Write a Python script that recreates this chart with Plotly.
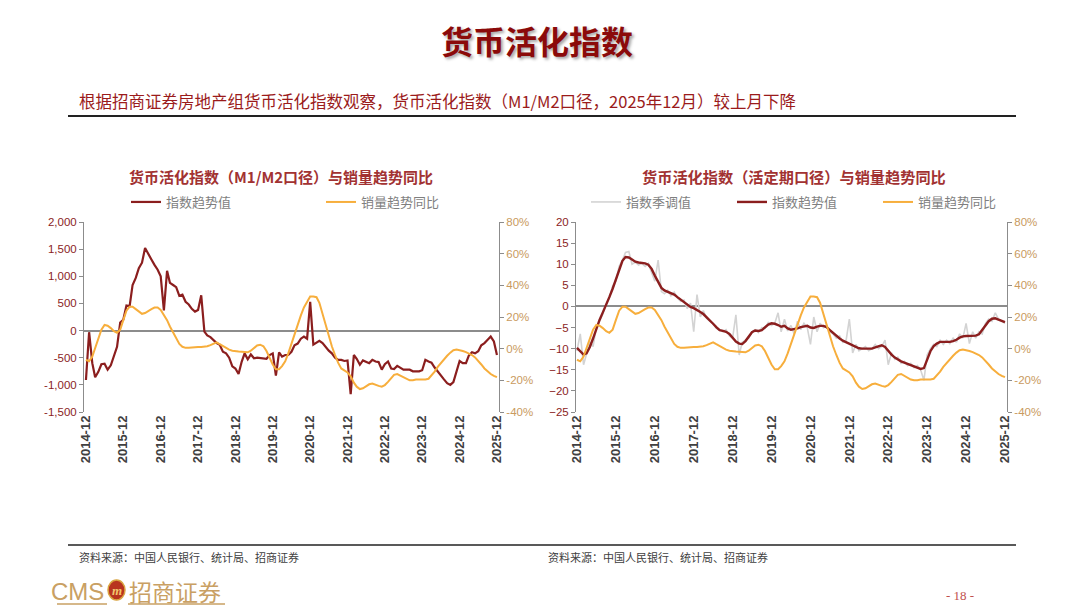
import pandas as pd
import plotly.graph_objects as go

# 月度日期（2014-12 ~ 2025-12）
months = pd.date_range("2014-12-01", "2025-12-01", freq="MS")
year_ticks = pd.date_range("2014-12-01", "2025-12-01", freq="12MS")
year_labels = [d.strftime("%Y-%m") for d in year_ticks]

# 左图：货币活化指数（M1/M2口径）趋势值
m1m2_trend = [
    -910, -30, -600, -860, -760, -620, -610, -720, -640, -470, -300, 150,
    200, 460, 450, 840, 970, 1150, 1250, 1520, 1400, 1310, 1210, 1120,
    1000, 370, 1100, 880, 840, 800, 640, 660, 530, 480, 400, 350,
    380, 650, -20, -90, -120, -170, -230, -260, -390, -420, -500, -660,
    -700, -800, -570, -420, -530, -440, -510, -500, -510, -510, -520, -450,
    -420, -830, -400, -480, -450, -450, -390, -270, -240, -150, -110, -150,
    530, -260, -230, -190, -230, -310, -370, -420, -500, -540, -540, -560,
    -550, -1170, -450, -520, -630, -550, -570, -600, -540, -570, -580, -720,
    -620, -570, -700, -710, -650, -690, -720, -720, -720, -750, -750, -750,
    -730, -540, -570, -590, -680, -760, -840, -900, -970, -1000, -950, -760,
    -560, -600, -600, -460, -400, -420, -380, -270, -230, -170, -110, -200,
    -450,
]

# 销量趋势同比（%）
sales_yoy = [
    -7, -8, -5, 0, 6.5, 12, 15, 14.5, 13, 11, 10, 12,
    18, 24, 26.5, 26.5, 25, 23.5, 22, 22.5, 23.5, 25, 26, 26,
    24.5, 21.5, 18, 14, 10, 6, 3, 1.2, 0.5, 0.5, 0.8, 1,
    1, 1, 1.2, 1.5, 2.2, 3, 4, 2.8, 1.5, 0.5, -0.6, -1.3,
    -1.7, -1.8, -2, -2.2, -2.3, -1.3, 0.3, 2, 2.5, 1.5, -1.5, -6,
    -10, -13, -13, -11, -8, -3, 3, 10, 16, 21, 26, 30,
    33, 33, 32.5, 29, 22, 14, 7, 1.5, -4, -9, -12.5, -14,
    -15, -17.5, -21.5, -24, -25.5, -25, -23.5, -22.5, -22, -23, -23.5, -24,
    -23, -21, -18.5, -16.5, -16, -17, -18, -19.5, -20, -20, -19.5, -19.5,
    -19.5, -19.5, -19, -17, -14.5, -11.5, -9, -6.5, -4.5, -2.5, -1, -0.5,
    -0.8, -1.5, -2.2, -3, -4, -5.5, -7.5, -10, -12.5, -14.5, -16, -17.2,
    -18,
]

# 右图：货币活化指数（活定期口径）季调值
demand_sa = [
    -10.5, -6.5, -13.8, -11.5, -8.5, -9.5, -5.0, -3.5, -1.8, 0.5, 2.0, 4.8,
    6.0, 9.5, 11.0, 12.8, 13.0, 10.0, 10.5, 9.8, 10.2, 9.5, 10.2, 8.0,
    6.0, 11.0, 3.5, 3.0, 3.8, 2.5, 3.4, 2.0, 1.2, 1.5, -0.5, 0.8,
    -6.0, 2.8, -2.5, -1.0, -2.8, -3.5, -4.0, -5.2, -5.5, -6.0, -5.5, -7.0,
    -7.5, -2.0, -11.5, -8.5, -8.0, -7.5, -6.0, -5.5, -6.2, -5.0, -5.2, -3.8,
    -4.5, -4.0, -1.5, -6.0, -3.0, -5.8, -4.5, -6.5, -3.5, -5.5, -4.0, -5.0,
    -9.0, -2.5, -6.0, -4.0, -5.0, -4.5, -6.0, -6.5, -7.5, -7.0, -8.5, -8.0,
    -3.0, -11.0, -9.0, -10.5, -10.0, -9.5, -10.5, -10.0, -9.0, -10.0, -9.5, -8.0,
    -13.8, -11.0, -12.5, -12.0, -13.5, -13.0, -14.0, -13.5, -14.5, -14.0, -15.0, -17.5,
    -11.5, -10.0, -9.0, -9.5, -8.0, -9.0, -8.0, -8.8, -7.5, -8.5, -6.5, -7.5,
    -4.0, -8.8, -6.0, -7.5, -6.0, -6.5, -4.0, -3.0, -3.5, -1.5, -3.0, -3.5,
    -4.0,
]

# 右图：货币活化指数（活定期口径）趋势值
demand_trend = [
    -9.8, -10.6, -11.4, -11.1, -9.6, -7.6, -5.3, -3.2, -1.4, 0.3, 2.2, 4.2,
    6.5, 8.8, 10.8, 11.7, 11.6, 11.1, 10.6, 10.4, 10.3, 10.2, 9.9, 8.9,
    7.3, 5.7, 4.4, 3.8, 3.5, 3.2, 2.8, 2.2, 1.6, 1.0, 0.4, -0.1,
    -0.4, -0.8, -1.3, -1.8, -2.5, -3.3, -4.1, -4.9, -5.6, -5.8, -6.0, -6.5,
    -7.4, -8.3, -8.8, -8.9, -8.2, -7.2, -6.1, -5.7, -5.8, -5.6, -4.9, -4.3,
    -4.0, -4.1, -4.4, -4.8, -4.6, -5.2, -5.5, -5.4, -5.2, -4.9, -4.7, -4.6,
    -5.0, -5.1, -4.8, -4.6, -4.6, -4.9, -5.6, -6.3, -7.0, -7.6, -8.1, -8.5,
    -8.8, -9.2, -9.6, -9.9, -10.0, -10.0, -10.0, -10.0, -9.7, -9.4, -9.2, -9.6,
    -10.6, -11.4, -12.1, -12.6, -13.0, -13.3, -13.6, -13.9, -14.2, -14.5, -14.8, -14.6,
    -12.5, -10.6, -9.4, -8.8, -8.4, -8.4, -8.4, -8.4, -8.2, -7.9, -7.4, -7.1,
    -7.0, -7.0, -7.0, -6.9, -6.6, -5.6, -4.5, -3.5, -2.9, -2.8, -3.1, -3.4,
    -3.7,
]

left_vals = [-1500, -1000, -500, 0, 500, 1000, 1500, 2000]
left_text = ["-1,500", "-1,000", "-500", "0", "500", "1,000", "1,500", "2,000"]
right_vals = [-25, -20, -15, -10, -5, 0, 5, 10, 15, 20]
pct_vals = [-40, -20, 0, 20, 40, 60, 80]
pct_text = ["-40%", "-20%", "0%", "20%", "40%", "60%", "80%"]

RED = "#8B1E1E"
ORANGE = "#F7AE3C"
GRAY = "#D3D3D3"
AXIS = "#8C8C8C"
CJK = "Noto Sans CJK SC"
# 页面有 8px 边距，图按 1072x600 放置
OFF = 8
W, H = 1072, 600


def px(x):
    return (x - OFF) / W


def py(y):
    return 1 - (y - OFF) / H


ydom = [py(412), py(222)]
xdom_l = [px(84), px(499)]
xdom_r = [px(576), px(1007)]
xr_l = ["2014-11-12", "2025-12-21"]
xr_r = ["2014-11-22", "2025-12-20"]

fig = go.Figure()
fig.add_trace(go.Scatter(x=months, y=m1m2_trend, name="指数趋势值", mode="lines",
                         line=dict(color=RED, width=2.2), xaxis="x", yaxis="y", legend="legend"))
fig.add_trace(go.Scatter(x=months, y=sales_yoy, name="销量趋势同比", mode="lines",
                         line=dict(color=ORANGE, width=2), xaxis="x", yaxis="y2", legend="legend"))
fig.add_trace(go.Scatter(x=months, y=demand_sa, name="指数季调值", mode="lines",
                         line=dict(color=GRAY, width=1.6), xaxis="x2", yaxis="y3", legend="legend2"))
fig.add_trace(go.Scatter(x=months, y=demand_trend, name="指数趋势值", mode="lines",
                         line=dict(color=RED, width=2.4), xaxis="x2", yaxis="y3", legend="legend2"))
fig.add_trace(go.Scatter(x=months, y=sales_yoy, name="销量趋势同比", mode="lines",
                         line=dict(color=ORANGE, width=2), xaxis="x2", yaxis="y4", legend="legend2"))

xtick = dict(tickvals=year_ticks, ticktext=year_labels, tickangle=-90, ticks="",
             tickfont=dict(family="Liberation Sans", size=13, color="#404040", weight="bold"),
             showgrid=False, showline=False, zeroline=False, automargin=False)
yleft = dict(showgrid=False, showline=True, linecolor=AXIS, linewidth=1, ticks="outside",
             ticklen=4, tickcolor=AXIS, zeroline=True, zerolinecolor=AXIS, zerolinewidth=1.5,
             automargin=False, tickfont=dict(family="Liberation Sans", size=11.5, color=RED))
yright = dict(showgrid=False, showline=True, linecolor=AXIS, linewidth=1, ticks="outside",
              ticklen=4, tickcolor=AXIS, zeroline=False, side="right", range=[-40, 80],
              tickvals=pct_vals, ticktext=pct_text, automargin=False,
              tickfont=dict(family="Liberation Sans", size=11.5, color="#C99A5E"))


def zero_pos(lo, hi):
    return ydom[0] + (0 - lo) / (hi - lo) * (ydom[1] - ydom[0])


# 零线上的刻度
zero_ticks = dict(tickvals=year_ticks, showticklabels=False, ticks="outside", ticklen=4,
                  tickcolor=AXIS, showgrid=False, showline=False, zeroline=False,
                  anchor="free", side="bottom", automargin=False)

legend_font = dict(family=CJK, size=13, color="#7F7F7F")
fig.update_layout(
    width=W, height=H, margin=dict(l=0, r=0, t=0, b=0, autoexpand=False),
    paper_bgcolor="white", plot_bgcolor="rgba(0,0,0,0)", showlegend=True,
    font=dict(family=CJK),
    xaxis=dict(xtick, domain=xdom_l, range=xr_l, anchor="y"),
    yaxis=dict(yleft, domain=ydom, range=[-1500, 2000], tickvals=left_vals, ticktext=left_text,
               anchor="x"),
    yaxis2=dict(yright, overlaying="y", anchor="x"),
    xaxis2=dict(xtick, domain=xdom_r, range=xr_r, anchor="y3"),
    yaxis3=dict(yleft, domain=ydom, range=[-25, 20], tickvals=right_vals, anchor="x2"),
    yaxis4=dict(yright, overlaying="y3", anchor="x2"),
    xaxis3=dict(zero_ticks, overlaying="x", range=xr_l, position=zero_pos(-1500, 2000)),
    xaxis4=dict(zero_ticks, overlaying="x2", range=xr_r, position=zero_pos(-25, 20)),
    legend=dict(orientation="h", x=px(126), y=py(202), xanchor="left", yanchor="middle",
                entrywidth=150, entrywidthmode="pixels", itemwidth=30,
                font=legend_font, bgcolor="rgba(0,0,0,0)"),
    legend2=dict(orientation="h", x=px(586), y=py(202), xanchor="left", yanchor="middle",
                 entrywidth=101, entrywidthmode="pixels", itemwidth=30,
                 font=legend_font, bgcolor="rgba(0,0,0,0)"),
)

ann = [
    dict(x=px(537), y=py(40), text="<b>货币活化指数</b>", font=dict(size=32, color="#8B0A0A",
         shadow="2px 2px 3px rgba(0,0,0,0.35)"), xanchor="center", yanchor="middle"),
    dict(x=px(77), y=py(101), text="根据招商证券房地产组货币活化指数观察，货币活化指数（M1/M2口径，2025年12月）较上月下降",
         font=dict(size=16.5, color="#9B1B1B"), xanchor="left", yanchor="middle"),
    dict(x=px(281), y=py(176), text="<b>货币活化指数（M1/M2口径）与销量趋势同比</b>",
         font=dict(size=15, color="#A23232"), xanchor="center", yanchor="middle"),
    dict(x=px(794), y=py(176), text="<b>货币活化指数（活定期口径）与销量趋势同比</b>",
         font=dict(size=15.2, color="#A23232"), xanchor="center", yanchor="middle"),
    dict(x=px(77), y=py(557), text="资料来源：中国人民银行、统计局、招商证券",
         font=dict(size=11, color="#404040"), xanchor="left", yanchor="middle"),
    dict(x=px(546), y=py(557), text="资料来源：中国人民银行、统计局、招商证券",
         font=dict(size=11, color="#404040"), xanchor="left", yanchor="middle"),
    dict(x=px(106), y=py(591), text="CMS", font=dict(family="Liberation Sans Narrow, Liberation Sans",
         size=24, color="#C9A063"), xanchor="right", yanchor="middle"),
    dict(x=px(116.5), y=py(590), text="<b><i>m</i></b>", font=dict(family="Liberation Serif",
         size=13, color="#F2C66D"), xanchor="center", yanchor="middle"),
    dict(x=px(127), y=py(591), text="招商证券", font=dict(size=23, color="#C9A063"),
         xanchor="left", yanchor="middle"),
    dict(x=px(960), y=py(595), text="- 18 -", font=dict(family="Liberation Serif", size=13,
         color="#C0504D"), xanchor="center", yanchor="middle"),
]
for a in ann:
    a.update(xref="paper", yref="paper", showarrow=False)
fig.update_layout(annotations=ann)

shapes = [
    dict(type="line", x0=px(68), x1=px(1016), y0=py(116), y1=py(116), line=dict(color="#222222", width=2)),
    dict(type="line", x0=px(68), x1=px(1016), y0=py(545), y1=py(545), line=dict(color="#222222", width=1.5)),
    dict(type="circle", x0=px(108), x1=px(125), y0=py(600), y1=py(580),
         fillcolor="#B8341F", line=dict(color="#D9A441", width=1.5)),
    dict(type="line", x0=px(57), x1=px(107), y0=py(604), y1=py(604), line=dict(color="#C9A063", width=1.5)),
    dict(type="line", x0=px(128), x1=px(225), y0=py(604), y1=py(604), line=dict(color="#C9A063", width=1.5)),
]
for s in shapes:
    s.update(xref="paper", yref="paper")
fig.update_layout(shapes=shapes)

fig.write_html("out.html")
